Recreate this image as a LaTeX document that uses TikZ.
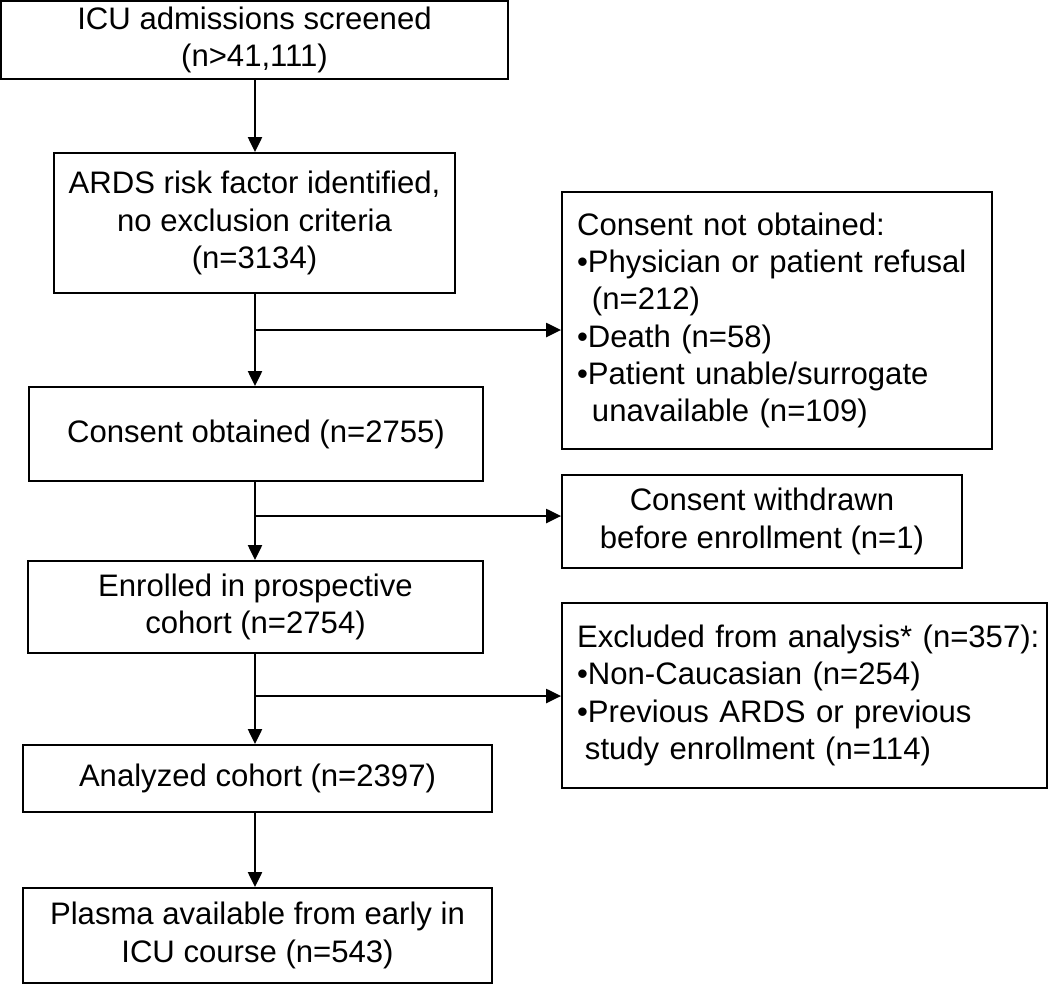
\documentclass[tikz,border=0pt]{standalone}
\usepackage{fontspec}
\setmainfont{Liberation Sans}
\usetikzlibrary{arrows.meta}

\begin{document}
\begin{tikzpicture}[x=0.02cm,y=-0.02cm]
% Styles
\tikzstyle{box}=[draw, line width=1.1pt, inner sep=0pt, align=center, font=\fontsize{17.7}{21.2}\selectfont]
\tikzstyle{list box}=[box, align=left, inner xsep=0.3cm]
\tikzstyle{flow}=[line width=1.1pt, -{Triangle[length=8.5pt,width=8pt]}]

\useasboundingbox (0,0) rectangle (1050,984);

% draw the nodes
\node[box, minimum width=10.14cm, minimum height=1.56cm] (screened) at (254.5,40) {ICU admissions screened\\(n>41,111)};
\node[box, minimum width=8.02cm, minimum height=2.80cm] (risk) at (254.5,223) {ARDS risk factor identified,\\no exclusion criteria\\(n=3134)};
\node[box, minimum width=9.08cm, minimum height=1.88cm] (consent) at (256,434) {Consent obtained (n=2755)};
\node[box, minimum width=9.10cm, minimum height=1.84cm] (enrolled) at (255.5,607) {Enrolled in prospective\\cohort (n=2754)};
\node[box, minimum width=9.38cm, minimum height=1.34cm] (analyzed) at (257.5,778.5) {Analyzed cohort (n=2397)};
\node[box, minimum width=9.38cm, minimum height=1.90cm] (plasma) at (257.5,935.5) {Plasma available from early in\\ICU course (n=543)};

%side boxes
\node[list box, text width=8cm, minimum height=5.14cm] (notobt) at (777,320.5) {Consent not obtained:\\•Physician or patient refusal\\\hspace*{8.5pt}(n=212)\\•Death (n=58)\\•Patient unable/surrogate\\\hspace*{8.5pt}unavailable (n=109)};
\node[box, minimum width=8cm, minimum height=1.86cm] (withdrawn) at (762,521.5) {Consent withdrawn\\before enrollment (n=1)};
\node[list box, text width=9.1cm, minimum height=3.70cm] (excluded) at (804.5,695.5) {\mbox{Excluded from analysis* (n=357):}\\•Non-Caucasian (n=254)\\•Previous ARDS or previous\\\hspace*{4.5pt}study enrollment (n=114)};

% branch points
\coordinate (spine) at (255,0);
\coordinate (b1) at (255,330);
\coordinate (b2) at (255,516);
\coordinate (b3) at (255,696);

%fill path
\foreach \a/\b in {screened/risk,risk/consent,consent/enrolled,enrolled/analyzed,analyzed/plasma} {
\draw[flow] (\a.south -| spine) -- (\b.north -| spine);
}
\foreach \c/\d in {b1/notobt,b2/withdrawn,b3/excluded} {
\draw[flow] (\c) -- (\c -| \d.west);
}

\end{tikzpicture}
\end{document}
